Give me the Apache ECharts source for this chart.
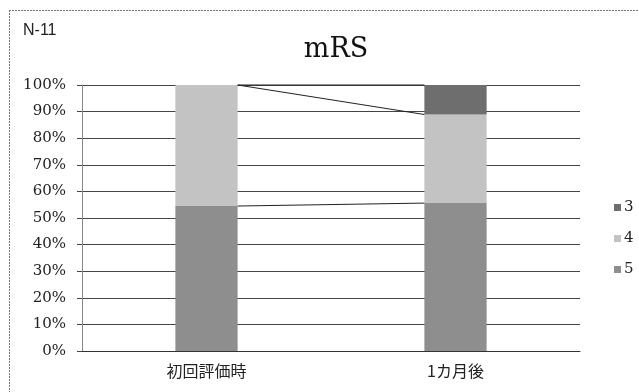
<!DOCTYPE html>
<html>
<head>
<meta charset="utf-8">
<script src="https://cdn.jsdelivr.net/npm/echarts@6/dist/echarts.min.js"></script>
<style>
  html, body { margin: 0; padding: 0; background: #fff; }
  #chart { width: 639px; height: 392px; }
</style>
</head>
<body>
<div id="chart"></div>
<script>
// mRS distribution, share of patients per grade (%)
const categories = ['初回評価時', '1カ月後'];
const grade5 = [54.5, 55.6];
const grade4 = [45.5, 33.3];
const grade3 = [0, 11.1];
const yTicks = [0, 10, 20, 30, 40, 50, 60, 70, 80, 90, 100];

const stackOrder = [
  { name: '5', values: grade5, color: '#8e8e8e' },
  { name: '4', values: grade4, color: '#c3c3c3' },
  { name: '3', values: grade3, color: '#6e6e6e' }
];

// cumulative top of each stacked segment, per category
const connectorData = [];
const running = categories.map(() => 0);
stackOrder.forEach(s => {
  s.values.forEach((v, i) => { running[i] += v; });
  connectorData.push(running.slice());
});

const serifFont = '"DejaVu Serif", "Liberation Serif", serif';

const barSeries = stackOrder.map(s => ({
  name: s.name,
  type: 'bar',
  stack: 'total',
  barWidth: '25%',
  data: s.values,
  itemStyle: { color: s.color },
  emphasis: { disabled: true },
  z: 2
}));

// lines joining the segment boundaries of neighbouring bars
const connectorSeries = {
  type: 'custom',
  silent: true,
  z: 3,
  data: connectorData,
  renderItem: function (params, api) {
    const bandWidth = api.size([1, 0])[0];
    const half = bandWidth * 0.25 / 2;
    const p0 = api.coord([0, api.value(0)]);
    const p1 = api.coord([1, api.value(1)]);
    return {
      type: 'line',
      shape: { x1: p0[0] + half, y1: p0[1], x2: p1[0] - half, y2: p1[1] },
      style: { stroke: '#222', lineWidth: 1 }
    };
  }
};

const chart = echarts.init(document.getElementById('chart'), null, { renderer: 'canvas' });
chart.setOption({
  animation: false,
  backgroundColor: '#fff',
  title: {
    text: 'mRS',
    left: 331,
    textAlign: 'center',
    top: 31,
    textStyle: { fontFamily: serifFont, fontSize: 27, fontWeight: 'normal', color: '#111' }
  },
  legend: {
    orient: 'vertical',
    left: 609,
    top: 195,
    itemWidth: 7,
    itemHeight: 7,
    itemGap: 16,
    icon: 'rect',
    data: ['3', '4', '5'],
    textStyle: { fontFamily: serifFont, fontSize: 15, color: '#222', padding: [0, 0, 0, -2] }
  },
  grid: { left: 82, right: 59, top: 85, bottom: 41 },
  xAxis: {
    type: 'category',
    data: categories,
    axisLine: { lineStyle: { color: '#333', width: 1 } },
    axisTick: { show: false },
    axisLabel: {
      margin: 12,
      fontFamily: '"Noto Sans CJK JP", sans-serif',
      fontSize: 16,
      color: '#222'
    }
  },
  yAxis: {
    type: 'value',
    min: yTicks[0],
    max: yTicks[yTicks.length - 1],
    interval: yTicks[1] - yTicks[0],
    axisLine: { show: true, lineStyle: { color: '#888', width: 1 } },
    axisTick: { show: true, length: 5, lineStyle: { color: '#444' } },
    splitLine: { lineStyle: { color: '#444', width: 1 } },
    axisLabel: {
      margin: 16,
      formatter: '{value}%',
      fontFamily: serifFont,
      fontSize: 15,
      color: '#222'
    }
  },
  graphic: [
    {
      type: 'text',
      left: 23,
      top: 23,
      style: {
        text: 'N-11',
        fontFamily: '"Liberation Sans", Arial, sans-serif',
        fontSize: 16,
        fill: '#222'
      }
    },
    {
      type: 'line',
      shape: { x1: 9.5, y1: 10, x2: 9.5, y2: 392 },
      style: { stroke: '#777', lineWidth: 1, lineDash: [2, 1] }
    },
    {
      type: 'line',
      shape: { x1: 9, y1: 10.5, x2: 639, y2: 10.5 },
      style: { stroke: '#777', lineWidth: 1, lineDash: [2, 1] }
    }
  ],
  series: barSeries.concat([connectorSeries])
});
</script>
</body>
</html>
